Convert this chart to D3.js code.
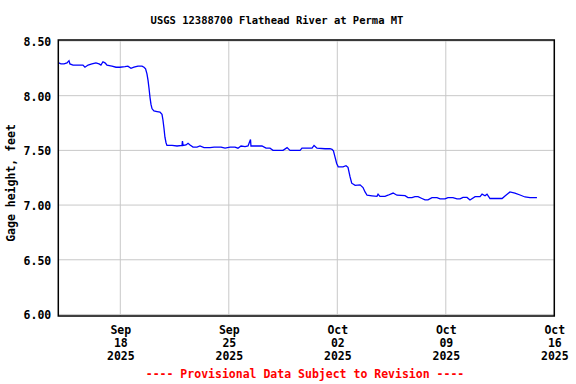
<!DOCTYPE html>
<html>
<head>
  <meta charset="utf-8" />
  <title>USGS 12388700 Flathead River at Perma MT</title>
  <style type="text/css">
    body { margin: 0; background: white; }
    svg { display: block; }
    text { font-family: "DejaVu Sans Mono", "Liberation Mono", monospace; font-weight: bold; }
  </style>
  <script src="https://d3js.org/d3.v7.min.js" type="text/javascript"></script>
</head>
<body>
  <svg width="576" height="384" style="background:white;"></svg>

<script>
  // days after 2025-09-14 00:00
  var days = [0.05, 0.17, 0.37, 0.56, 0.69, 0.75, 0.95, 1.27, 1.59, 1.72, 1.92, 2.17, 2.43, 2.63, 2.75, 2.88,
    3.01, 3.14, 3.46, 3.72, 3.98, 4.30, 4.49, 4.69, 4.88, 5.14, 5.40, 5.53, 5.63, 5.72, 5.79, 5.85, 5.92, 5.98,
    6.05, 6.17, 6.37, 6.56, 6.69, 6.75, 6.82, 6.88, 6.95, 7.01, 7.34, 7.66, 7.98, 8.01, 8.05, 8.24, 8.37, 8.50,
    8.69, 8.95, 9.14, 9.40, 9.79, 10.05, 10.50, 10.76, 11.08, 11.40, 11.59, 11.79, 12.05, 12.24, 12.40, 12.43,
    12.75, 13.14, 13.40, 13.66, 13.85, 14.50, 14.76, 14.95, 15.60, 15.72, 16.37, 16.50, 16.69, 17.21, 17.53,
    17.66, 17.75, 17.85, 17.96, 18.06, 18.37, 18.56, 18.69, 18.82, 18.93, 19.15, 19.47, 19.66, 19.79, 19.92,
    20.24, 20.56, 20.63, 20.75, 21.08, 21.27, 21.60, 21.85, 22.37, 22.56, 22.82, 23.01, 23.21, 23.46, 23.66,
    23.85, 24.11, 24.43, 24.63, 24.95, 25.14, 25.46, 25.72, 25.92, 26.11, 26.37, 26.56, 26.89, 27.21, 27.34,
    27.53, 27.66, 27.85, 28.63, 28.82, 29.14, 29.46, 29.79, 30.11, 30.43, 30.88];

  var gage = [8.30, 8.29, 8.29, 8.30, 8.32, 8.29, 8.28, 8.28, 8.28, 8.26, 8.28, 8.29, 8.30, 8.29, 8.28, 8.31,
    8.30, 8.28, 8.27, 8.26, 8.26, 8.265, 8.27, 8.25, 8.26, 8.27, 8.27, 8.26, 8.245, 8.20, 8.14, 8.07, 7.98, 7.92,
    7.88, 7.86, 7.855, 7.85, 7.83, 7.78, 7.70, 7.62, 7.57, 7.545, 7.545, 7.54, 7.545, 7.585, 7.545, 7.55, 7.565, 7.55,
    7.53, 7.53, 7.54, 7.525, 7.525, 7.53, 7.53, 7.52, 7.53, 7.53, 7.52, 7.54, 7.535, 7.54, 7.60, 7.54,
    7.54, 7.54, 7.52, 7.52, 7.50, 7.50, 7.525, 7.50, 7.50, 7.52, 7.52, 7.545, 7.52, 7.515, 7.515,
    7.51, 7.495, 7.44, 7.38, 7.35, 7.35, 7.36, 7.345, 7.26, 7.20, 7.18, 7.185, 7.16, 7.12, 7.09,
    7.085, 7.08, 7.10, 7.08, 7.08, 7.09, 7.11, 7.09, 7.086, 7.068, 7.068, 7.077, 7.077, 7.06, 7.047,
    7.047, 7.068, 7.068, 7.056, 7.056, 7.068, 7.068, 7.056, 7.056, 7.07, 7.07, 7.047, 7.077, 7.077, 7.10,
    7.085, 7.10, 7.06, 7.06, 7.083, 7.12, 7.11, 7.092, 7.074, 7.068, 7.068];

  var yTicks = [6.0, 6.5, 7.0, 7.5, 8.0, 8.5];
  var xTicks = ["2025-09-18", "2025-09-25", "2025-10-02", "2025-10-09", "2025-10-16"];
  var xTickLabels = [["Sep", "18", "2025"], ["Sep", "25", "2025"], ["Oct", "02", "2025"],
    ["Oct", "09", "2025"], ["Oct", "16", "2025"]];

  var parse = d3.timeParse("%Y-%m-%d");
  var start = parse("2025-09-14");
  var end = parse("2025-10-16");

  var svg = d3.select("svg");
  var pLeft = 58.3, pRight = 554.3, pTop = 40, pBottom = 316;

  var x = d3.scaleTime().domain([start, end]).range([pLeft, pRight]);
  var y = d3.scaleLinear().domain([5.986, 8.509]).range([pBottom, pTop]);

  var points = days.map(function (d, i) {
    return { t: new Date(start.getTime() + d * 864e5), v: gage[i] };
  });

  // grid
  svg.append("g").selectAll("line")
    .data(yTicks).enter().append("line")
    .attr("x1", pLeft).attr("x2", pRight)
    .attr("y1", function (d) { return y(d) }).attr("y2", function (d) { return y(d) })
    .style("stroke", "#c8c8c8").style("stroke-width", 1);

  svg.append("g").selectAll("line")
    .data(xTicks).enter().append("line")
    .attr("x1", function (d) { return x(parse(d)) }).attr("x2", function (d) { return x(parse(d)) })
    .attr("y1", pTop).attr("y2", pBottom)
    .style("stroke", "#c8c8c8").style("stroke-width", 1);

  // data line
  var line = d3.line()
    .x(function (d) { return x(d.t) })
    .y(function (d) { return y(d.v) });

  svg.append("path")
    .datum(points)
    .attr("d", line)
    .style("fill", "none")
    .style("stroke", "#0000ff")
    .style("stroke-width", 1.3);

  // frame
  svg.append("rect")
    .attr("x", pLeft).attr("y", pTop)
    .attr("width", pRight - pLeft).attr("height", pBottom - pTop)
    .style("fill", "none").style("stroke", "black").style("stroke-width", 1.5);

  // y axis labels
  var yAxis = d3.axisLeft(y).tickValues(yTicks).tickFormat(d3.format(".2f")).tickSize(0).tickPadding(7);
  var gy = svg.append("g").attr("transform", "translate(" + pLeft + ",0)").call(yAxis);
  gy.select(".domain").remove();
  gy.attr("font-family", null).attr("font-size", null);
  gy.selectAll("text")
    .attr("dy", null).attr("y", 4.5)
    .style("font-size", "11.5px").style("fill", "black");

  // x axis labels, three lines each
  var xAxis = d3.axisBottom(x).tickValues(xTicks.map(parse)).tickFormat("").tickSize(0);
  var gx = svg.append("g").attr("transform", "translate(0," + pBottom + ")").call(xAxis);
  gx.select(".domain").remove();
  gx.attr("font-family", null).attr("font-size", null);
  gx.selectAll(".tick text")
    .attr("dy", null).attr("y", 18)
    .style("font-size", "11.5px").style("fill", "black")
    .each(function (d, i) {
      var t = d3.select(this);
      xTickLabels[i].forEach(function (s, j) {
        t.append("tspan").attr("x", 0).attr("y", 18 + j * 13).text(s);
      });
    });

  // titles
  svg.append("text")
    .attr("x", 277).attr("y", 24)
    .attr("text-anchor", "middle")
    .style("font-size", "10.5px")
    .text("USGS 12388700 Flathead River at Perma MT");

  svg.append("text")
    .attr("transform", "translate(15,183) rotate(-90)")
    .attr("text-anchor", "middle")
    .style("font-size", "11.5px")
    .text("Gage height, feet");

  svg.append("text")
    .attr("x", 305).attr("y", 378)
    .attr("text-anchor", "middle")
    .style("font-size", "11.5px")
    .style("fill", "red")
    .text("---- Provisional Data Subject to Revision ----");
</script>
</body>
</html>
